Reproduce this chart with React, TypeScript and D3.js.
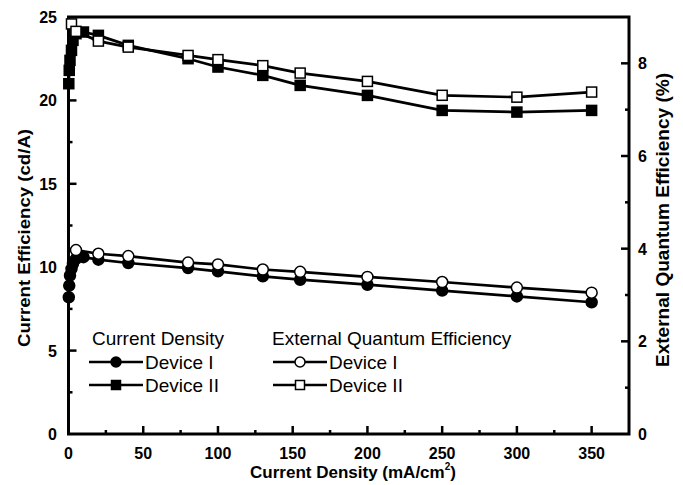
import * as d3 from 'd3';
import React, { useRef, useEffect } from 'react';

// Device II current efficiency (filled squares)
const ce2X = [0.2, 0.5, 1, 2, 3, 5, 10, 20, 40, 80, 100, 130, 155, 200, 250, 300, 350];
const ce2Y = [21.0, 21.8, 22.4, 23.0, 23.6, 24.0, 24.1, 23.9, 23.3, 22.5, 22.0, 21.5, 20.9, 20.3, 19.4, 19.3, 19.4];
// Device I current efficiency (filled circles)
const ce1X = [0.2, 0.5, 1, 2, 3, 5, 10, 20, 40, 80, 100, 130, 155, 200, 250, 300, 350];
const ce1Y = [8.2, 8.9, 9.5, 9.9, 10.2, 10.5, 10.6, 10.45, 10.25, 9.95, 9.75, 9.45, 9.25, 8.95, 8.6, 8.25, 7.9];
// Device II EQE (open squares), right axis
const eqe2X = [2, 5, 20, 40, 80, 100, 130, 155, 200, 250, 300, 350];
const eqe2Y = [8.85, 8.69, 8.48, 8.35, 8.17, 8.08, 7.95, 7.79, 7.61, 7.31, 7.27, 7.38];
// Device I EQE (open circles), right axis
const eqe1X = [5, 20, 40, 80, 100, 130, 155, 200, 250, 300, 350];
const eqe1Y = [3.97, 3.89, 3.84, 3.70, 3.66, 3.55, 3.50, 3.39, 3.28, 3.16, 3.05];

const xTicks = [0, 50, 100, 150, 200, 250, 300, 350];
const yLeftTicks = [0, 5, 10, 15, 20, 25];
const yRightTicks = [0, 2, 4, 6, 8];

function App() {
    const ref = useRef(null);
    const width = 683;
    const height = 485;

    useEffect(() => {
        const svg = d3.select(ref.current);
        svg.selectAll("*").remove();

        const left = 68.5, right = 629, top = 17, bottom = 434;
        const font = "'Liberation Sans', Arial, sans-serif";

        const x = d3.scaleLinear().domain([0, 375]).range([left, right]);
        const yL = d3.scaleLinear().domain([0, 25]).range([bottom, top]);
        const yR = d3.scaleLinear().domain([0, 9]).range([bottom, top]);

        svg.append("rect").attr("width", width).attr("height", height).attr("fill", "white");

        // frame
        svg.append("rect")
            .attr("x", left).attr("y", top)
            .attr("width", right - left).attr("height", bottom - top)
            .attr("fill", "none").attr("stroke", "black").attr("stroke-width", 3);

        const g = svg.append("g");

        // x ticks (inward)
        d3.range(25, 375, 25).forEach(v => {
            const major = v % 50 === 0;
            g.append("line")
                .attr("x1", x(v)).attr("x2", x(v))
                .attr("y1", bottom).attr("y2", bottom - (major ? 8 : 4))
                .attr("stroke", "black").attr("stroke-width", 2.5);
        });
        xTicks.forEach(v => {
            g.append("text")
                .attr("x", x(v)).attr("y", 459)
                .attr("text-anchor", "middle")
                .attr("font-family", font).attr("font-weight", "bold").attr("font-size", 16)
                .text(v);
        });

        // left ticks
        d3.range(2.5, 25, 2.5).forEach(v => {
            const major = v % 5 === 0;
            g.append("line")
                .attr("x1", left).attr("x2", left + (major ? 8 : 4))
                .attr("y1", yL(v)).attr("y2", yL(v))
                .attr("stroke", "black").attr("stroke-width", 2.5);
        });
        yLeftTicks.forEach(v => {
            g.append("text")
                .attr("x", 57).attr("y", yL(v) + 6)
                .attr("text-anchor", "end")
                .attr("font-family", font).attr("font-weight", "bold").attr("font-size", 16)
                .text(v);
        });

        // right ticks
        d3.range(1, 9, 1).forEach(v => {
            const major = v % 2 === 0;
            g.append("line")
                .attr("x1", right).attr("x2", right - (major ? 8 : 4))
                .attr("y1", yR(v)).attr("y2", yR(v))
                .attr("stroke", "black").attr("stroke-width", 2.5);
        });
        yRightTicks.forEach(v => {
            g.append("text")
                .attr("x", 638).attr("y", yR(v) + 6)
                .attr("text-anchor", "start")
                .attr("font-family", font).attr("font-weight", "bold").attr("font-size", 16)
                .text(v);
        });

        // axis titles
        svg.append("text")
            .attr("transform", "translate(30, 238) rotate(-90)")
            .attr("text-anchor", "middle")
            .attr("font-family", font).attr("font-weight", "bold").attr("font-size", 17)
            .attr("textLength", 218).attr("lengthAdjust", "spacingAndGlyphs")
            .text("Current Efficiency (cd/A)");
        svg.append("text")
            .attr("transform", "translate(669, 220) rotate(-90)")
            .attr("text-anchor", "middle")
            .attr("font-family", font).attr("font-weight", "bold").attr("font-size", 18)
            .attr("textLength", 294).attr("lengthAdjust", "spacingAndGlyphs")
            .text("External Quantum Efficiency (%)");
        const xt = svg.append("text")
            .attr("x", 353).attr("y", 478)
            .attr("text-anchor", "middle")
            .attr("font-family", font).attr("font-weight", "bold").attr("font-size", 17);
        xt.append("tspan").text("Current Density (mA/cm");
        xt.append("tspan").attr("dy", -8).attr("font-size", 10).text("2");
        xt.append("tspan").attr("dy", 8).text(")");

        const line = d3.line<[number, number]>().x(d => d[0]).y(d => d[1]);

        const series = [
            { xs: ce2X, ys: ce2Y, scale: yL, shape: "square", fill: "black" },
            { xs: eqe2X, ys: eqe2Y, scale: yR, shape: "square", fill: "white" },
            { xs: ce1X, ys: ce1Y, scale: yL, shape: "circle", fill: "black" },
            { xs: eqe1X, ys: eqe1Y, scale: yR, shape: "circle", fill: "white" },
        ];

        series.forEach(s => {
            const pts: [number, number][] = s.xs.map((v, i) => [x(v), s.scale(s.ys[i])]);
            svg.append("path")
                .attr("d", line(pts))
                .attr("fill", "none").attr("stroke", "black").attr("stroke-width", 2.7);
        });
        series.forEach(s => {
            const pts: [number, number][] = s.xs.map((v, i) => [x(v), s.scale(s.ys[i])]);
            pts.forEach(p => {
                if (s.shape === "square") {
                    svg.append("rect")
                        .attr("x", p[0] - 5).attr("y", p[1] - 5)
                        .attr("width", 10).attr("height", 10)
                        .attr("fill", s.fill).attr("stroke", "black").attr("stroke-width", 1.5);
                } else {
                    svg.append("circle")
                        .attr("cx", p[0]).attr("cy", p[1]).attr("r", 5.5)
                        .attr("fill", s.fill).attr("stroke", "black").attr("stroke-width", 1.5);
                }
            });
        });

        // legend
        const legendText = (tx, ty, txt) => svg.append("text")
            .attr("x", tx).attr("y", ty)
            .attr("font-family", font).attr("font-size", 19)
            .text(txt);
        const legendItem = (lx, ly, shape, fill, label) => {
            svg.append("line")
                .attr("x1", lx).attr("x2", lx + 54)
                .attr("y1", ly).attr("y2", ly)
                .attr("stroke", "black").attr("stroke-width", 2.7);
            if (shape === "square") {
                svg.append("rect")
                    .attr("x", lx + 27 - 4.5).attr("y", ly - 4.5)
                    .attr("width", 9).attr("height", 9)
                    .attr("fill", fill).attr("stroke", "black").attr("stroke-width", 1.5);
            } else {
                svg.append("circle")
                    .attr("cx", lx + 27).attr("cy", ly).attr("r", 5)
                    .attr("fill", fill).attr("stroke", "black").attr("stroke-width", 1.5);
            }
            legendText(lx + 56, ly + 7, label);
        };

        legendText(92, 345, "Current Density");
        legendItem(89, 362, "circle", "black", "Device I");
        legendItem(89, 385, "square", "black", "Device II");
        legendText(272, 345, "External Quantum Efficiency");
        legendItem(273, 362, "circle", "white", "Device I");
        legendItem(273, 385, "square", "white", "Device II");
    }, []);

    return (
        <svg ref={ref} width={width} height={height}
            style={{ position: "absolute", left: 0, top: 0 }}>
        </svg>
    );
}

export default App;
